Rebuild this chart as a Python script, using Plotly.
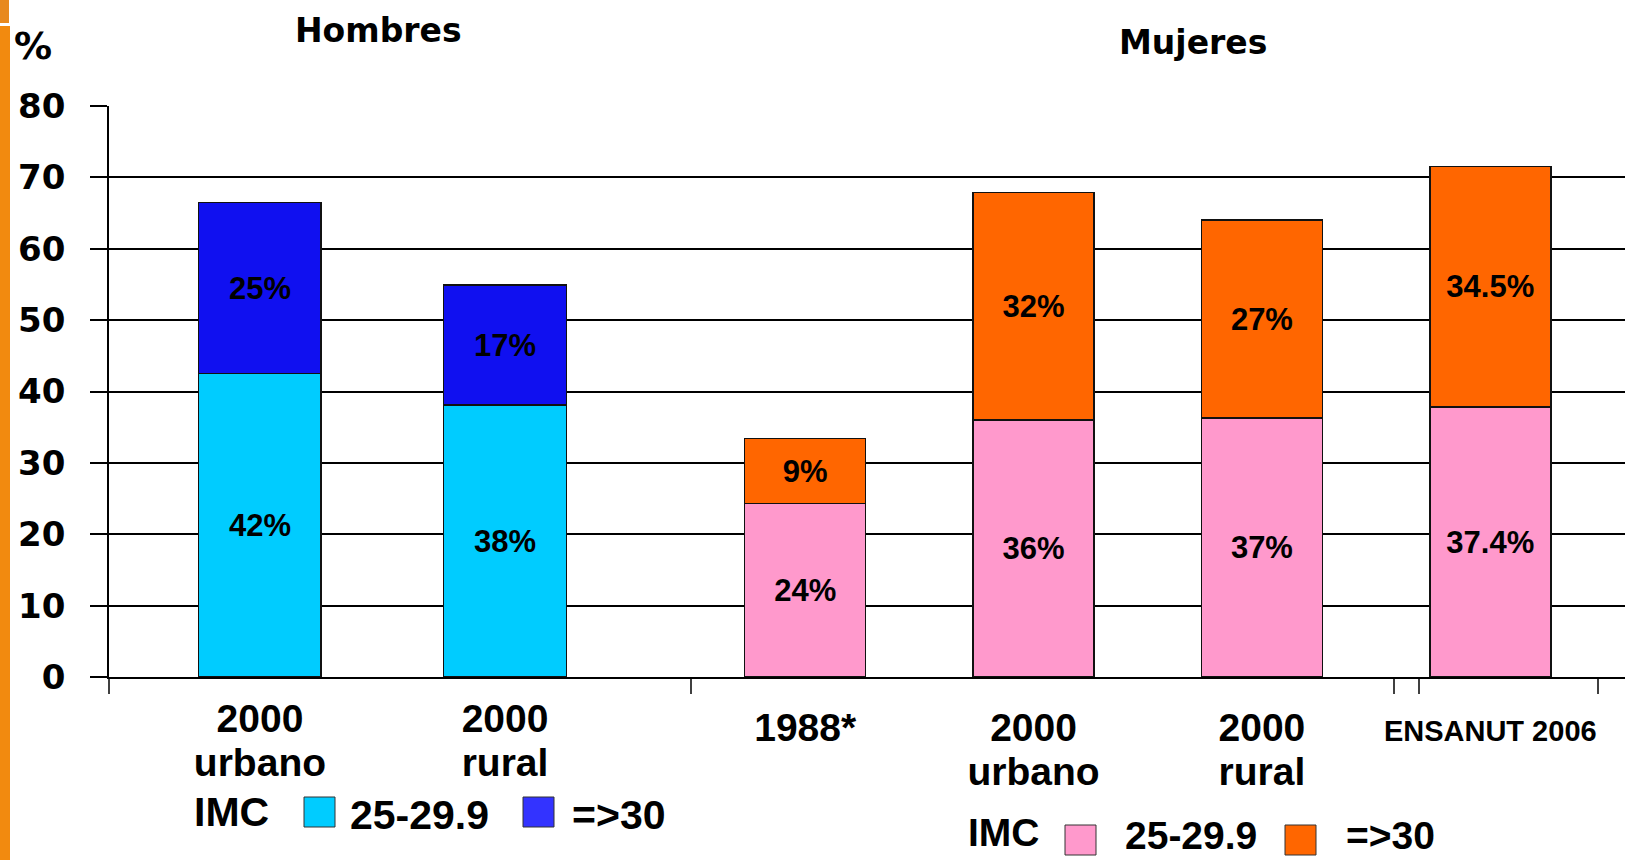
###########################################################################
### libraries

import plotly.graph_objects as go


###########################################################################
### data

hombres_cat = ['2000<br>urbano', '2000<br>rural']
hombres_sobrepeso = [42.5, 38.1]
hombres_obesidad = [24.0, 16.8]
hombres_txt_sobrepeso = ['42%', '38%']
hombres_txt_obesidad = ['25%', '17%']

mujeres_cat = ['1988*', '2000<br>urbano', '2000<br>rural', 'ENSANUT 2006']
mujeres_sobrepeso = [24.3, 36.0, 36.3, 37.8]
mujeres_obesidad = [9.1, 31.9, 27.7, 33.7]
mujeres_txt_sobrepeso = ['24%', '36%', '37%', '37.4%']
mujeres_txt_obesidad = ['9%', '32%', '27%', '34.5%']

y_ticks = [0, 10, 20, 30, 40, 50, 60, 70, 80]


###########################################################################
### helpers (pixel -> paper)

W, H = 1646, 860
L, R, T, B = 109, 1625, 106, 677

def px(X):
    return (X - L) / (R - L)

def py(Y):
    return (B - Y) / (B - T)

def big(s, size=39):
    # bigger glyphs, but the line spacing stays the one of the axis font
    return '<br>'.join('<span style="font-size:%dpx">%s</span>' % (size, p) for p in s.split('<br>'))


LAB = dict(family='Liberation Sans, Arial', size=31, color='black', weight='bold')
AX = dict(family='DejaVu Sans, Verdana', size=34, color='black', weight='bold')
CAT = dict(family='Liberation Sans, Arial', size=34, color='black', weight='bold')
LEG = dict(family='Liberation Sans, Arial', size=41, color='black', weight='bold')


###########################################################################
### bars

fig = go.Figure()

def bars(x, y, txt, color, xa, ya, w):
    fig.add_trace(go.Bar(x=x, y=y, text=txt, xaxis=xa, yaxis=ya, width=w,
                         marker=dict(color=color, line=dict(color='#111111', width=1.5)),
                         textposition='inside', insidetextanchor='middle',
                         textfont=LAB, textangle=0, showlegend=False, hoverinfo='skip'))

bars(hombres_cat, hombres_sobrepeso, hombres_txt_sobrepeso, '#00CCFF', 'x', 'y', 0.5)
bars(hombres_cat, hombres_obesidad, hombres_txt_obesidad, '#1010F0', 'x', 'y', 0.5)
bars(mujeres_cat, mujeres_sobrepeso, mujeres_txt_sobrepeso, '#FF99CC', 'x2', 'y2', 0.53)
bars(mujeres_cat, mujeres_obesidad, mujeres_txt_obesidad, '#FF6600', 'x2', 'y2', 0.53)


###########################################################################
### layout

split = px(691)

h_text = [big(c) for c in hombres_cat]
m_text = [big(c, 29 if c.startswith('ENSANUT') else 39) for c in mujeres_cat]

fig.update_layout(
    width=W, height=H,
    margin=dict(l=L, r=W - R, t=T, b=H - B, pad=0),
    barmode='stack', plot_bgcolor='white', paper_bgcolor='white',
    xaxis=dict(domain=[0, split], type='category', range=[-0.616, 1.759],
               tickvals=hombres_cat, ticktext=h_text,
               showline=True, linecolor='black', linewidth=1.5, ticks='',
               tickfont=CAT, ticklabelstandoff=12, showgrid=False),
    yaxis=dict(range=[0, 80], tickvals=y_ticks, showgrid=True, gridcolor='black', gridwidth=1.5,
               showline=True, linecolor='black', linewidth=1.5, ticks='outside', ticklen=17,
               tickwidth=1.5, tickcolor='black', tickfont=AX, ticklabelstandoff=18, zeroline=False),
    xaxis2=dict(domain=[split, 1], type='category', range=[-0.5, 3.59], anchor='y2',
                tickvals=mujeres_cat, ticktext=m_text,
                showline=True, linecolor='black', linewidth=1.5, ticks='',
                tickfont=CAT, ticklabelstandoff=21, showgrid=False),
    yaxis2=dict(matches='y', anchor='x2', showticklabels=False, showgrid=True, gridcolor='black',
                gridwidth=1.5, showline=False, ticks='', zeroline=False),
)

shapes = []
# orange stripe at the left edge
shapes.append(dict(type='rect', xref='paper', yref='paper', x0=px(0), x1=px(9), y0=py(23), y1=py(0),
                   fillcolor='#E8891E', line=dict(width=0), layer='above'))
shapes.append(dict(type='rect', xref='paper', yref='paper', x0=px(0), x1=px(10), y0=py(860), y1=py(26),
                   fillcolor='#F28A0F', line=dict(width=0), layer='above'))
# x tick marks
for X in [109, 691, 1394, 1419, 1598]:
    shapes.append(dict(type='line', xref='paper', yref='paper', x0=px(X), x1=px(X), y0=0, y1=py(694),
                       line=dict(color='black', width=1.5)))

annotations = [
    dict(text='%', x=px(33), y=py(46), font=dict(AX, size=38)),
    dict(text='Hombres', x=px(378), y=py(31), font=dict(AX, size=33)),
    dict(text='Mujeres', x=px(1193), y=py(42), font=dict(AX, size=33)),
]

# legends
def legend(items, X_imc, Y, size):
    f = dict(LEG, size=size)
    annotations.append(dict(text='IMC', x=px(X_imc), y=py(Y), xanchor='left', font=f))
    for color, X_sw, label, X_txt, Y_sw in items:
        shapes.append(dict(type='rect', xref='paper', yref='paper', x0=px(X_sw), x1=px(X_sw + 31),
                           y0=py(Y_sw + 15), y1=py(Y_sw - 15), fillcolor=color, line=dict(color='#333333', width=1)))
        annotations.append(dict(text=label, x=px(X_txt), y=py(Y + 3), xanchor='left', font=f))

legend([('#00CCFF', 304, '25-29.9', 348, 812), ('#3333FF', 523, '=>30', 570, 812)], 192, 812, 41)
legend([('#FF99CC', 1065, '25-29.9', 1123, 840), ('#FF6600', 1285, '=>30', 1344, 840)], 966, 832, 39)

for a in annotations:
    a.update(xref='paper', yref='paper', showarrow=False)
    a.setdefault('xanchor', 'center')
    a.setdefault('yanchor', 'middle')

fig.update_layout(shapes=shapes, annotations=annotations)

fig.write_html('out.html', config={'displayModeBar': False},
               post_script="document.body.style.margin='0px';")
